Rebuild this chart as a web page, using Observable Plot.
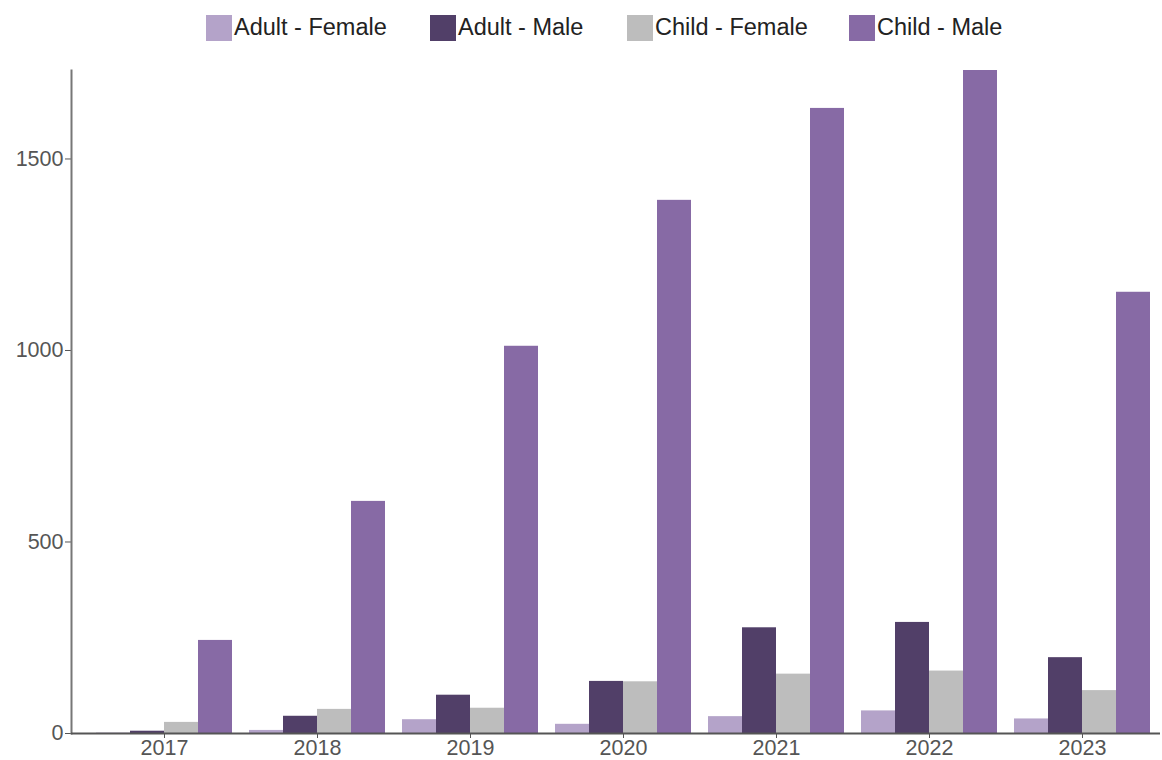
<!DOCTYPE html>
<html>
<head>
<meta charset="utf-8">
<script src="https://cdn.jsdelivr.net/npm/d3@7"></script>
<script src="https://cdn.jsdelivr.net/npm/@observablehq/plot@0.6"></script>
<style>
  html, body { margin: 0; padding: 0; background: #fff; }
  body { width: 1162px; height: 760px; overflow: hidden; font-family: "Liberation Sans", Arial, sans-serif; }
  #legend { height: 55px; position: relative; }
  .item { position: absolute; top: 14px; display: flex; align-items: center; font-size: 23.5px; color: #222; white-space: nowrap; }
  .sw { width: 26px; height: 26px; margin-right: 2px; }
</style>
</head>
<body>
<div id="legend"></div>
<div id="chart"></div>
<script>
const years = ["2017", "2018", "2019", "2020", "2021", "2022", "2023"];
const seriesNames = ["Adult - Female", "Adult - Male", "Child - Female", "Child - Male"];
const seriesColors = ["#b4a3c9", "#513f68", "#bdbdbd", "#876aa5"];
const adultFemale = [1, 8, 36, 24, 44, 59, 38];
const adultMale = [6, 45, 100, 136, 276, 290, 198];
const childFemale = [29, 63, 66, 135, 155, 163, 112];
const childMale = [243, 606, 1011, 1392, 1632, 1731, 1152];
const yTicks = [0, 500, 1000, 1500];

const seriesValues = [adultFemale, adultMale, childFemale, childMale];

// legend
const legendLefts = [206, 430, 627, 849];
const legend = document.getElementById("legend");
seriesNames.forEach((name, i) => {
  const it = document.createElement("div");
  it.className = "item";
  it.style.left = legendLefts[i] + "px";
  const sw = document.createElement("div");
  sw.className = "sw";
  sw.style.background = seriesColors[i];
  const tx = document.createElement("span");
  tx.textContent = name;
  it.appendChild(sw); it.appendChild(tx);
  legend.appendChild(it);
});

const W = 1162, H = 705;
const mL = 71, mR = 2, mT = 15, mB = 27;
const xOpts = {type: "band", domain: years, range: [mL, W - mR], paddingInner: 0.112, paddingOuter: 0.111, align: 0.706};
const bw = Plot.scale({x: xOpts}).bandwidth;
const barW = bw / seriesNames.length;

const marks = seriesValues.map((vals, i) =>
  Plot.barY(years.map((y, j) => ({year: y, value: vals[j]})), {
    x: "year", y: "value", fill: seriesColors[i],
    insetLeft: i * barW, insetRight: (seriesNames.length - 1 - i) * barW
  })
);

const chart = Plot.plot({
  width: W, height: H,
  marginLeft: mL, marginRight: mR, marginTop: mT, marginBottom: mB,
  style: {fontFamily: "'Liberation Sans', Arial, sans-serif", fontSize: "21.5px", color: "#555", background: "white", overflow: "visible"},
  x: {...xOpts, range: undefined, label: null, tickSize: 5, tickPadding: 1},
  y: {domain: [0, d3.max(childMale)], ticks: yTicks, tickFormat: d => String(d), label: null, tickSize: 6, tickPadding: 2},
  marks: [
    ...marks,
    Plot.frame({anchor: "left", stroke: "#777", strokeWidth: 2}),
    Plot.ruleY([0], {stroke: "#555", strokeWidth: 2})
  ]
});
document.getElementById("chart").appendChild(chart);
</script>
</body>
</html>
